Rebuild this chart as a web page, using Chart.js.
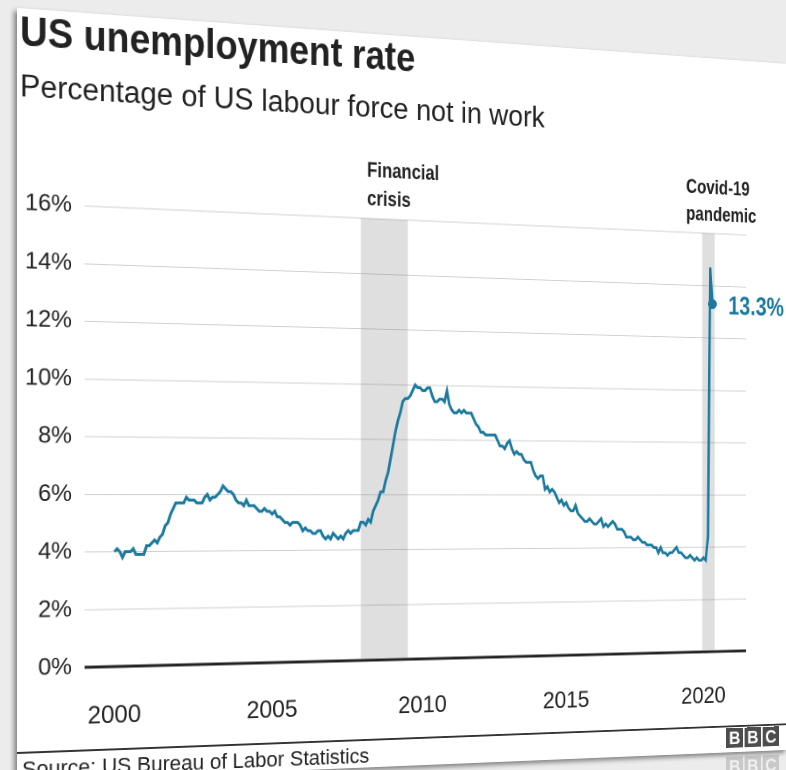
<!DOCTYPE html>
<html>
<head>
<meta charset="utf-8">
<script src="https://cdn.jsdelivr.net/npm/chart.js@4.4.0/dist/chart.umd.min.js"></script>
<style>
  html, body { margin: 0; padding: 0; width: 786px; height: 770px; overflow: hidden; background: #ececec; }
  body { font-family: 'Liberation Sans', Arial, Helvetica, sans-serif; color: #222; }
  #stage { position: absolute; left: 17px; top: 8px; width: 878px; height: 830px;
           transform-origin: 0 492px; transform: perspective(1000px) rotateY(8.4deg); }
  #card { position: absolute; left: 0; top: 0; width: 878px; height: 774px; background: #fff;
          box-shadow: -3px 3px 5px rgba(0,0,0,0.45); overflow: hidden; }
  .txt { position: absolute; margin: 0; line-height: 1; white-space: nowrap; }
  #title { left: 3px; top: 2px; font-size: 39px; font-weight: bold; transform-origin: 0 0; transform: scaleY(1.07); }
  #subtitle { left: 3px; top: 62px; font-size: 31px; }
  #source { left: 5px; top: 751px; font-size: 22px; }
  #rule { position: absolute; left: 0; top: 744px; width: 878px; height: 2px; background: #333; }
  #chartbox { position: absolute; left: 0; top: 112px; width: 878px; height: 640px; }
  #chart { width: 878px; height: 640px; }
  .logo { position: absolute; display: flex; gap: 2px; }
  .logo span { width: 21px; height: 22px; background: #4d4d4d; color: #fff; font-weight: bold;
               font-size: 20px; line-height: 22px; text-align: center; }
  #logo { left: 801px; top: 747px; }
  #logoReflect { left: 801px; top: 779px; opacity: 0.22; }
</style>
</head>
<body>
<div id="stage">
  <div id="card">
    <div id="title" class="txt">US unemployment rate</div>
    <div id="subtitle" class="txt">Percentage of US labour force not in work</div>
    <div id="chartbox"><canvas id="chart" width="878" height="640"></canvas></div>
    <div id="rule"></div>
    <div id="source" class="txt">Source: US Bureau of Labor Statistics</div>
    <div id="logo" class="logo"><span>B</span><span>B</span><span>C</span></div>
  </div>
  <div id="logoReflect" class="logo"><span>B</span><span>B</span><span>C</span></div>
</div>

<script>
// monthly unemployment rate (%), January 2000 to May 2020
var startYear = 2000;
var rates = [
  4.0, 4.1, 4.0, 3.8, 4.0, 4.0, 4.0, 4.1, 3.9, 3.9, 3.9, 3.9,   // 2000
  4.2, 4.2, 4.3, 4.4, 4.3, 4.5, 4.6, 4.9, 5.0, 5.3, 5.5, 5.7,   // 2001
  5.7, 5.7, 5.7, 5.9, 5.8, 5.8, 5.8, 5.7, 5.7, 5.7, 5.9, 6.0,   // 2002
  5.8, 5.9, 5.9, 6.0, 6.1, 6.3, 6.2, 6.1, 6.1, 6.0, 5.8, 5.7,   // 2003
  5.7, 5.6, 5.8, 5.6, 5.6, 5.6, 5.5, 5.4, 5.4, 5.5, 5.4, 5.4,   // 2004
  5.3, 5.4, 5.2, 5.2, 5.1, 5.0, 5.0, 4.9, 5.0, 5.0, 5.0, 4.9,   // 2005
  4.7, 4.8, 4.7, 4.7, 4.6, 4.6, 4.7, 4.7, 4.5, 4.4, 4.5, 4.4,   // 2006
  4.6, 4.5, 4.4, 4.5, 4.4, 4.6, 4.7, 4.6, 4.7, 4.7, 4.7, 5.0,   // 2007
  5.0, 4.9, 5.1, 5.0, 5.4, 5.6, 5.8, 6.1, 6.1, 6.5, 6.8, 7.3,   // 2008
  7.8, 8.3, 8.7, 9.0, 9.4, 9.5, 9.5, 9.6, 9.8, 10.0, 9.9, 9.9,  // 2009
  9.8, 9.8, 9.9, 9.9, 9.6, 9.4, 9.4, 9.5, 9.5, 9.4, 9.8, 9.3,   // 2010
  9.1, 9.0, 9.0, 9.1, 9.0, 9.1, 9.0, 9.0, 9.0, 8.8, 8.6, 8.5,   // 2011
  8.3, 8.3, 8.2, 8.2, 8.2, 8.2, 8.2, 8.0, 7.8, 7.8, 7.7, 7.9,   // 2012
  8.0, 7.7, 7.5, 7.6, 7.5, 7.5, 7.3, 7.2, 7.2, 7.2, 6.9, 6.7,   // 2013
  6.6, 6.7, 6.7, 6.2, 6.3, 6.1, 6.2, 6.1, 5.9, 5.7, 5.8, 5.6,   // 2014
  5.7, 5.5, 5.4, 5.4, 5.6, 5.3, 5.2, 5.1, 5.0, 5.0, 5.1, 5.0,   // 2015
  4.9, 4.9, 5.0, 5.1, 4.8, 4.9, 4.8, 4.9, 5.0, 4.9, 4.7, 4.7,   // 2016
  4.7, 4.6, 4.4, 4.4, 4.4, 4.3, 4.3, 4.4, 4.3, 4.2, 4.2, 4.1,   // 2017
  4.1, 4.1, 4.0, 4.0, 3.8, 4.0, 3.8, 3.8, 3.7, 3.8, 3.8, 3.9,   // 2018
  4.0, 3.8, 3.8, 3.7, 3.6, 3.6, 3.7, 3.6, 3.5, 3.6, 3.5, 3.5,   // 2019
  3.6, 3.5, 4.4, 14.7, 13.3                                     // 2020
];
var yearTicks = [2000, 2005, 2010, 2015, 2020];
var yMax = 16;
var yStep = 2;

// shaded periods (decimal years)
var bandStarts = [2007.92, 2019.95];
var bandEnds = [2009.5, 2020.42];
var bandLabels = [['Financial', 'crisis'], ['Covid-19', 'pandemic']];

var lineColor = '#1b7a9e';

var points = rates.map(function (v, i) { return { x: startYear + i / 12, y: v }; });

function condensedText(ctx, str, x, y, scaleX) {
  ctx.save();
  ctx.translate(x, y);
  ctx.scale(scaleX, 1);
  ctx.fillText(str, 0, 0);
  ctx.restore();
}

var annotations = {
  id: 'annotations',
  beforeDatasetsDraw: function (chart) {
    var ctx = chart.ctx, x = chart.scales.x, y = chart.scales.y;
    ctx.save();
    ctx.fillStyle = 'rgba(115,115,120,0.23)';
    var top = y.getPixelForValue(yMax), bottom = y.getPixelForValue(0) - 1;
    bandStarts.forEach(function (s, i) {
      var x0 = x.getPixelForValue(s), x1 = x.getPixelForValue(bandEnds[i]);
      ctx.fillRect(x0, top, x1 - x0, bottom - top);
    });
    ctx.restore();
  },
  afterDatasetsDraw: function (chart) {
    var ctx = chart.ctx, x = chart.scales.x, y = chart.scales.y;
    var top = chart.chartArea.top;
    ctx.save();
    ctx.fillStyle = '#222';
    ctx.font = "bold 22px 'Liberation Sans', Arial, sans-serif";
    ctx.textBaseline = 'alphabetic';
    ctx.textAlign = 'left';
    bandStarts.forEach(function (s, i) {
      var px = x.getPixelForValue(s) + (i === 0 ? 7 : -20);
      condensedText(ctx, bandLabels[i][0], px, top - 44, 0.86);
      condensedText(ctx, bandLabels[i][1], px, top - 14, 0.86);
    });
    var last = points[points.length - 1];
    ctx.fillStyle = lineColor;
    ctx.font = "bold 29px 'Liberation Sans', Arial, sans-serif";
    ctx.textBaseline = 'middle';
    condensedText(ctx, last.y.toFixed(1) + '%', x.getPixelForValue(last.x) + 20, y.getPixelForValue(last.y) + 3, 0.86);
    ctx.restore();
  }
};

Chart.defaults.font.family = "'Liberation Sans', Arial, Helvetica, sans-serif";
Chart.defaults.color = '#222';

var ctx = document.getElementById('chart').getContext('2d');
new Chart(ctx, {
  type: 'line',
  data: {
    datasets: [{
      data: points,
      borderColor: lineColor,
      backgroundColor: lineColor,
      borderWidth: 3,
      tension: 0,
      pointRadius: function (c) { return c.dataIndex === rates.length - 1 ? 5.5 : 0; },
      pointBorderWidth: 0,
      pointBackgroundColor: lineColor
    }]
  },
  options: {
    responsive: false,
    animation: false,
    devicePixelRatio: 2,
    layout: { padding: { top: 83, right: 52, left: 0, bottom: 0 } },
    plugins: { legend: { display: false }, tooltip: { enabled: false } },
    scales: {
      x: {
        type: 'linear',
        min: 1999.08,
        max: 2021.6,
        afterFit: function (s) { s.height = 91; },
        afterBuildTicks: function (s) { s.ticks = yearTicks.map(function (v) { return { value: v }; }); },
        grid: { display: false, drawTicks: false },
        border: { display: false },
        ticks: {
          padding: 35,
          maxRotation: 0,
          autoSkip: false,
          font: { size: 25 },
          color: '#222',
          callback: function (v) { return String(v); }
        }
      },
      y: {
        min: 0,
        max: yMax,
        afterFit: function (s) { s.width = 69; },
        grid: {
          drawTicks: false,
          color: function (c) { return c.tick && c.tick.value === 0 ? '#222' : '#cfcfcf'; },
          lineWidth: function (c) { return c.tick && c.tick.value === 0 ? 3 : 1; }
        },
        border: { display: false },
        ticks: {
          stepSize: yStep,
          padding: 13,
          font: { size: 24 },
          color: '#222',
          callback: function (v) { return v + '%'; }
        }
      }
    }
  },
  plugins: [annotations]
});
</script>
</body>
</html>
